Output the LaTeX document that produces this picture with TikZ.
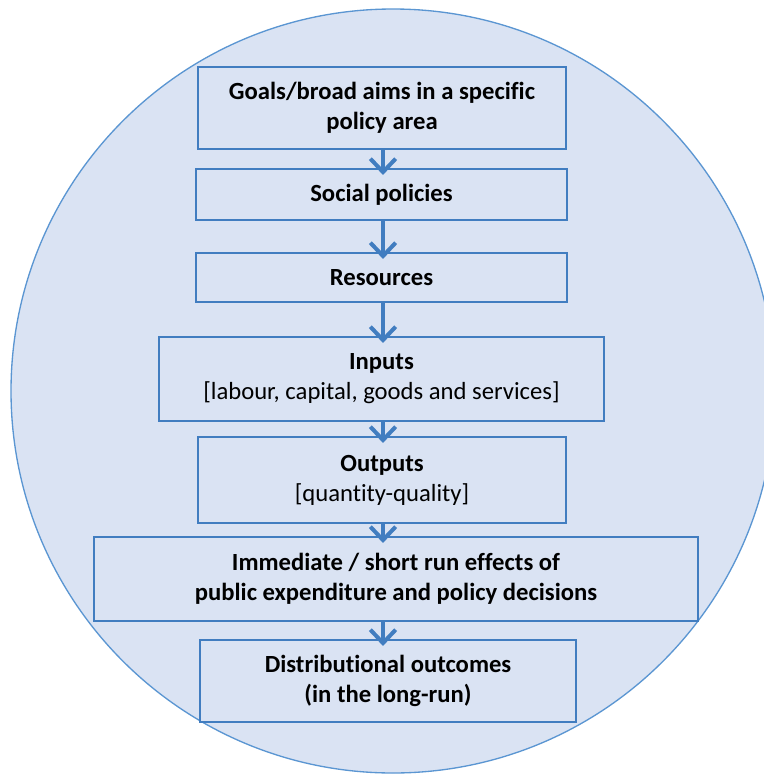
\documentclass[tikz,border=0pt]{standalone}
\usepackage{fontspec}
\setmainfont[Ligatures=NoCommon]{Carlito}
\usetikzlibrary{arrows.meta}
\definecolor{fillblue}{RGB}{218,227,243}
\definecolor{lineblue}{RGB}{65,125,192}
\definecolor{circblue}{RGB}{91,150,210}
\begin{document}
\begin{tikzpicture}[x=0.75pt,y=-0.75pt,
  box/.style={draw=lineblue,line width=1.1pt,fill=fillblue,inner sep=0pt,align=center,
    font=\fontsize{18.5}{22.5}\selectfont},
  flow/.style={draw=lineblue,line width=3.2pt,shorten >=-5pt,
    -{Straight Barb[length=10pt,width=19pt,line width=3pt]}}]
\useasboundingbox (0,0) rectangle (764,776);
\clip (0,0) rectangle (764,776);
\draw[circblue,line width=1pt,fill=fillblue] (393,391) circle [radius=286.5pt];
\coordinate (ax) at (383,0);
\node[box,minimum width=276pt,minimum height=61.5pt] (goals) at (382,108)
  {\textbf{Goals/broad aims in a specific}\\\textbf{policy area}};
\node[box,minimum width=278.25pt,minimum height=38.25pt] (social) at (381.5,194.5)
  {\textbf{Social policies}};
\node[box,minimum width=278.25pt,minimum height=36.75pt] (res) at (381.5,277.5)
  {\textbf{Resources}};
\node[box,minimum width=333.75pt,minimum height=63pt] (inputs) at (381.5,379)
  {\textbf{Inputs}\\{}[labour, capital, goods and services]};
\node[box,minimum width=276pt,minimum height=64.5pt] (outputs) at (382,480)
  {\textbf{Outputs}\\{}[quantity-quality]};
\node[box,minimum width=453pt,minimum height=63pt] (imm) at (396,579)
  {\textbf{Immediate / short run effects of}\\\textbf{public expenditure and policy decisions}};
\node[box,minimum width=282pt,minimum height=61.5pt] (dist) at (388,681)
  {\textbf{Distributional outcomes}\\\textbf{(in the long-run)}};
\draw[flow] (goals.south -| ax) -- (social.north -| ax);
\draw[flow] (social.south -| ax) -- (res.north -| ax);
\draw[flow] (res.south -| ax) -- (inputs.north -| ax);
\draw[flow] (inputs.south -| ax) -- (outputs.north -| ax);
\draw[flow] (outputs.south -| ax) -- (imm.north -| ax);
\draw[flow] (imm.south -| ax) -- (dist.north -| ax);
\end{tikzpicture}
\end{document}
